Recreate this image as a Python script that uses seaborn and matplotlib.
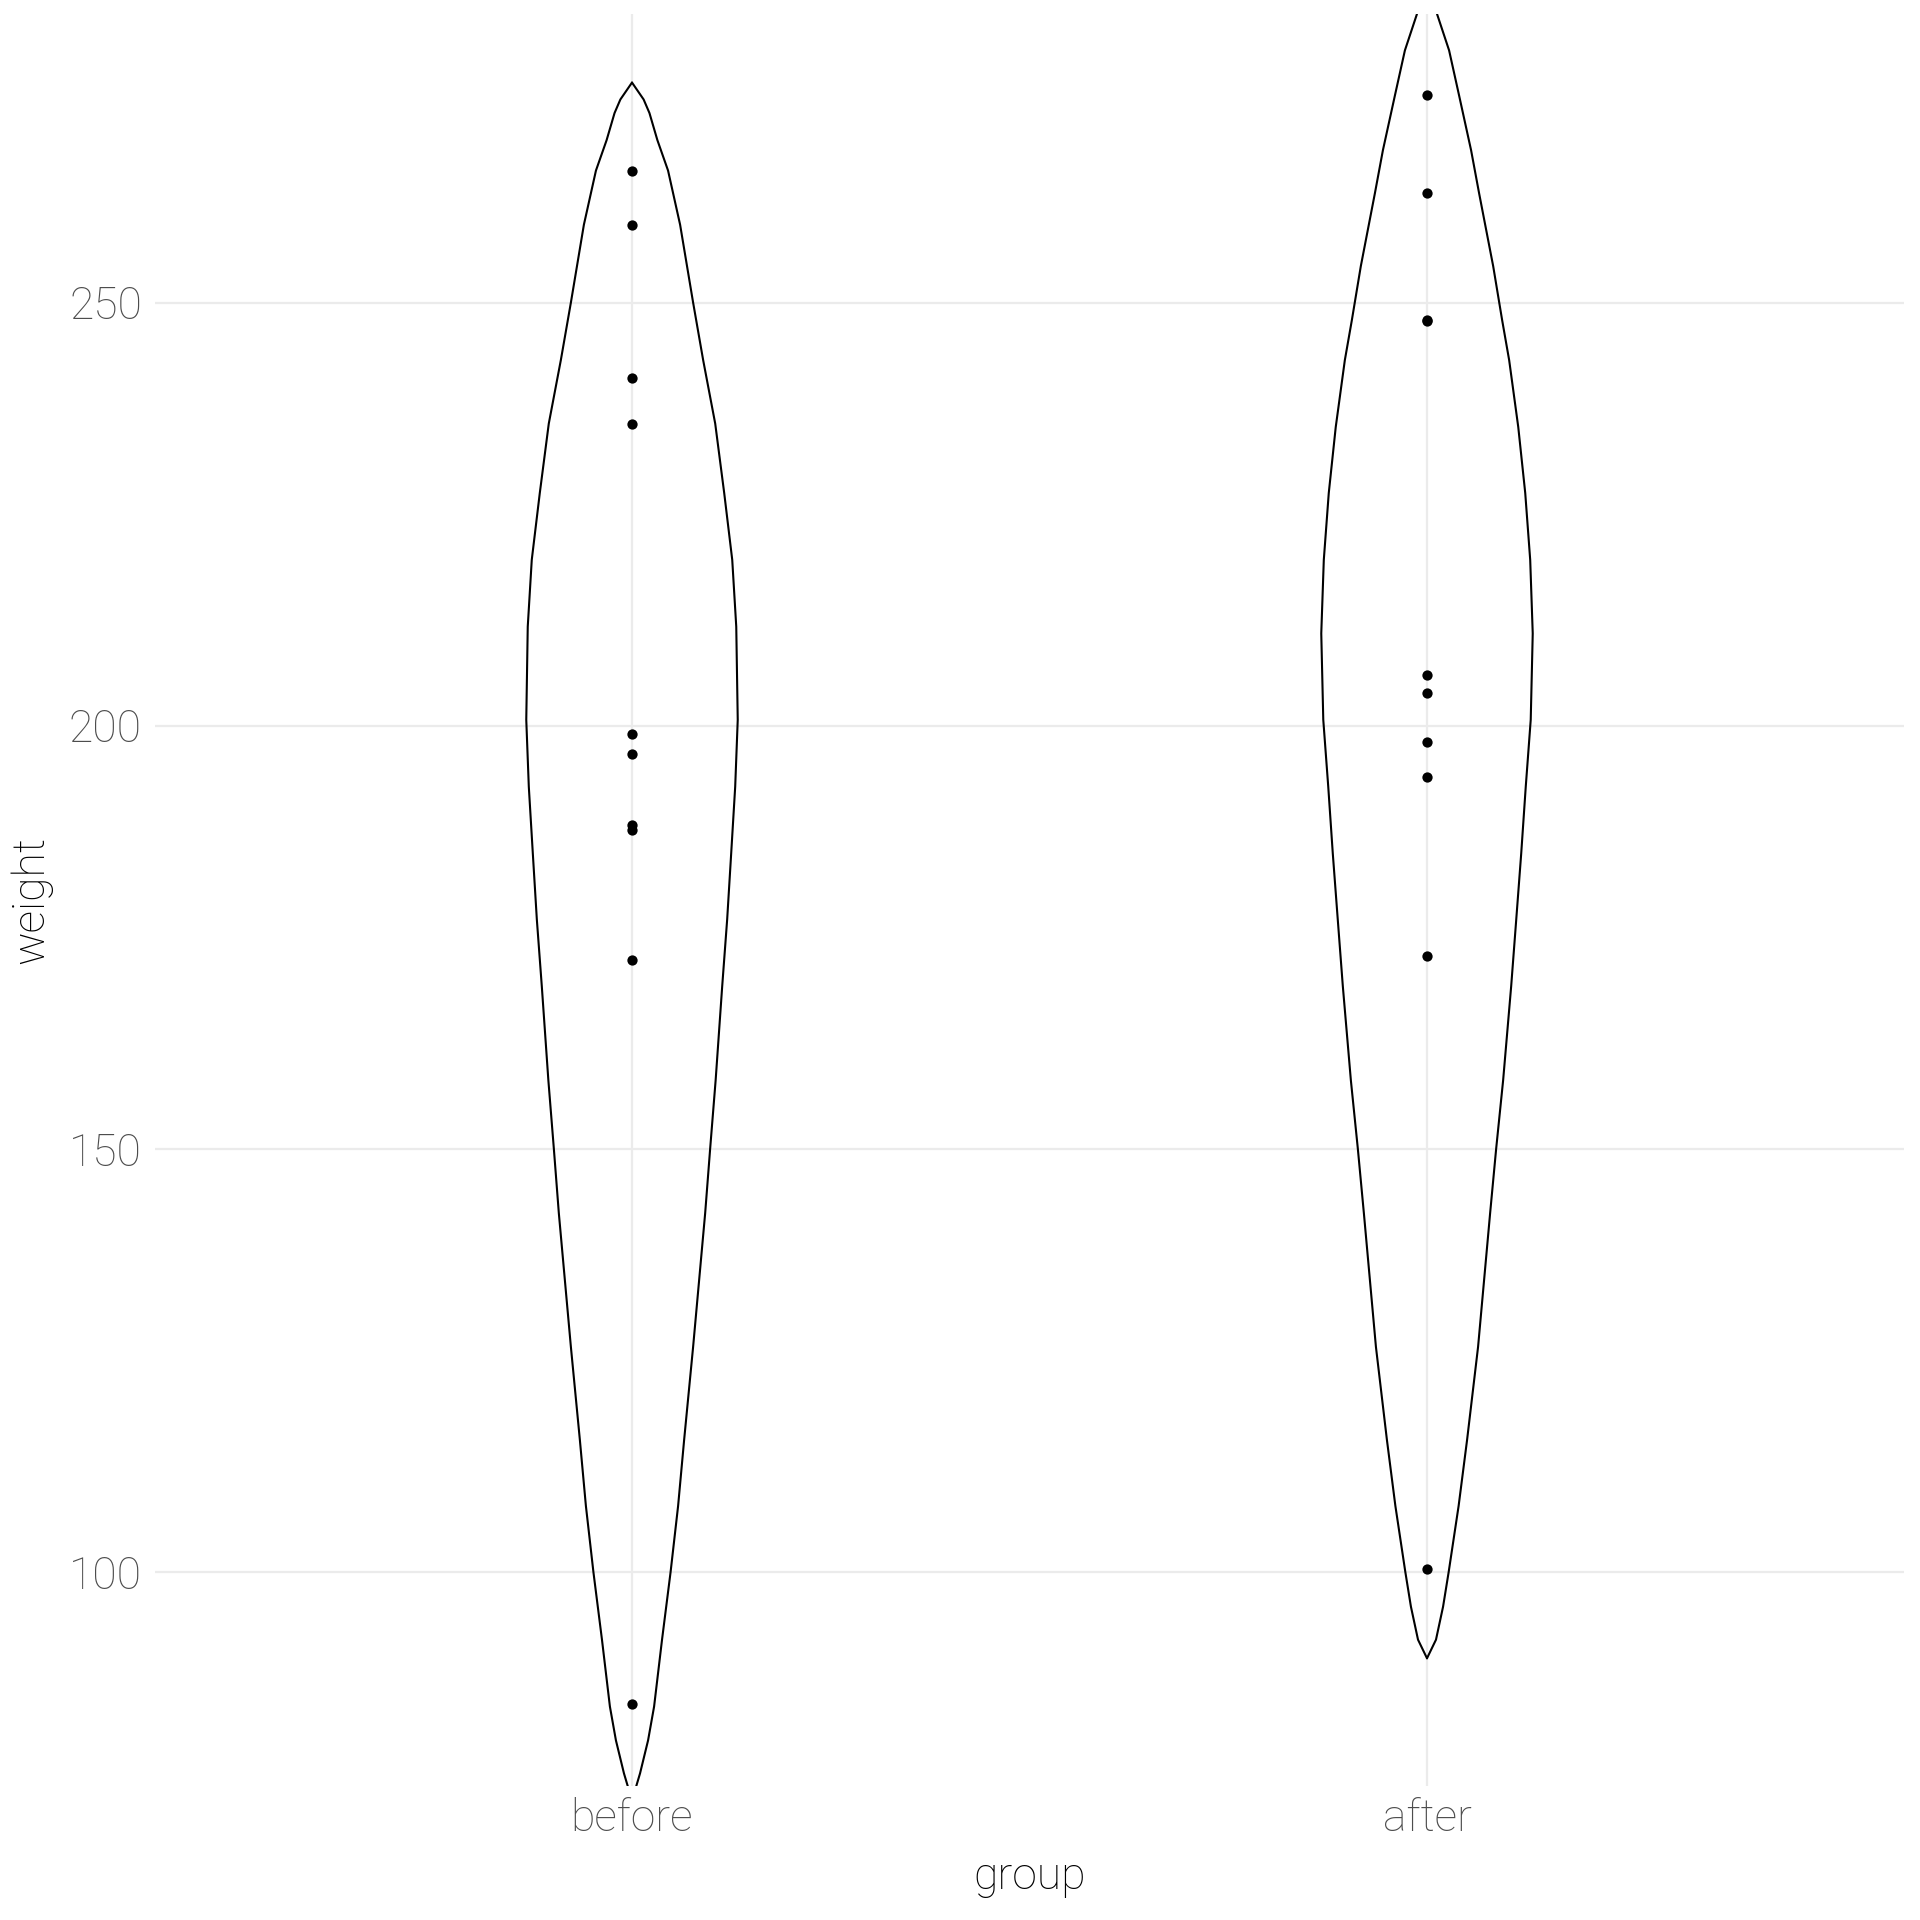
import matplotlib
matplotlib.use("Agg")
import matplotlib.pyplot as plt
from matplotlib import font_manager
import seaborn as sns
import pandas as pd
import numpy as np

# ---- data ----
groups = ["before", "after"]
before_weight = [265.6, 259.2, 241.1, 235.7, 199.05, 196.7, 188.3, 187.7, 172.35, 84.4]
after_weight = [274.5, 262.9, 248.0, 247.8, 206.0, 203.9, 198.1, 193.9, 172.8, 100.3]

# violin outline: relative density (1 = widest) at weight levels
before_levels = [276.0, 274.0, 272.4, 269.2, 265.6, 259.2, 250.0, 243.2, 235.7, 227.5,
                 219.6, 211.7, 200.7, 192.8, 184.9, 177.1, 169.2, 158.1, 150.0, 142.4,
                 134.5, 126.6, 115.6, 107.8, 100.0, 92.0, 84.1, 80.1, 76.2, 74.6]
before_density = [0.0, 0.110, 0.165, 0.240, 0.341, 0.455, 0.578, 0.673, 0.787, 0.872,
                  0.948, 0.986, 1.0, 0.976, 0.938, 0.900, 0.853, 0.791, 0.739, 0.692,
                  0.635, 0.578, 0.493, 0.436, 0.365, 0.284, 0.209, 0.152, 0.076, 0.038]
after_levels = [284.1, 279.8, 274.5, 268.0, 262.9, 254.3, 247.9, 243.2, 235.3, 227.5,
                219.6, 210.9, 200.7, 192.8, 184.9, 177.1, 169.2, 158.1, 150.0, 142.4,
                134.5, 126.6, 115.6, 107.8, 100.0, 95.9, 92.0, 89.8]
after_density = [0.095, 0.209, 0.303, 0.417, 0.493, 0.626, 0.711, 0.777, 0.863, 0.929,
                 0.976, 1.0, 0.981, 0.934, 0.891, 0.844, 0.796, 0.720, 0.654, 0.597,
                 0.540, 0.483, 0.379, 0.299, 0.205, 0.152, 0.085, 0.0]
violin_half_width = 0.133

y_ticks = [100, 150, 200, 250]
x_title = "group"
y_title = "weight"

df = pd.DataFrame({
    "group": ["before"] * len(before_weight) + ["after"] * len(after_weight),
    "weight": before_weight + after_weight,
})

# ---- style ----
sns.set_theme(style="white")
names = {f.name for f in font_manager.fontManager.ttflist}
fam = [f for f in ["Liberation Sans Narrow", "Roboto", "DejaVu Sans"] if f in names]
plt.rcParams["font.family"] = fam + ["DejaVu Sans"]
plt.rcParams["font.weight"] = "light"

FS = 32
fig = plt.figure(figsize=(19.2, 19.2), dpi=100)
W = H = 1920.0
left, right, top, bottom = 155, 1904, 14, 1786
ax = fig.add_axes([left / W, 1 - bottom / H, (right - left) / W, (bottom - top) / H])

sns.stripplot(data=df, x="group", y="weight", order=groups, jitter=False,
              color="black", size=7.4, linewidth=0, ax=ax, zorder=4)

for i, (lv, dens) in enumerate([(before_levels, before_density),
                                 (after_levels, after_density)]):
    w = np.asarray(dens) * violin_half_width
    lv = np.asarray(lv)
    ax.plot(i - w, lv, color="black", lw=1.5, zorder=3,
            solid_capstyle="round", solid_joinstyle="round")
    ax.plot(i + w, lv, color="black", lw=1.5, zorder=3,
            solid_capstyle="round", solid_joinstyle="round")

ax.set_xlim(-0.6, 1.6)
ax.set_ylim(74.71, 284.1)
ax.set_yticks(y_ticks)
ax.set_yticklabels([str(t) for t in y_ticks])
ax.grid(True, color="#EBEBEB", lw=1.6)
ax.set_axisbelow(True)
for s in ax.spines.values():
    s.set_visible(False)
ax.tick_params(axis="both", length=0, labelsize=FS, labelcolor="#4D4D4D")
ax.tick_params(axis="y", pad=9.4)
ax.tick_params(axis="x", pad=8.6)
for lab in ax.get_xticklabels() + ax.get_yticklabels():
    lab.set_fontweight("light")

ax.set_xlabel(x_title, fontsize=FS, color="black", va="top", fontweight="light")
ax.xaxis.set_label_coords(0.5, -0.039)
ax.set_ylabel(y_title, fontsize=FS, color="black", va="center", fontweight="light")
ax.yaxis.set_label_coords(-0.071, 0.5)

fig.savefig("out.png", dpi=100)
